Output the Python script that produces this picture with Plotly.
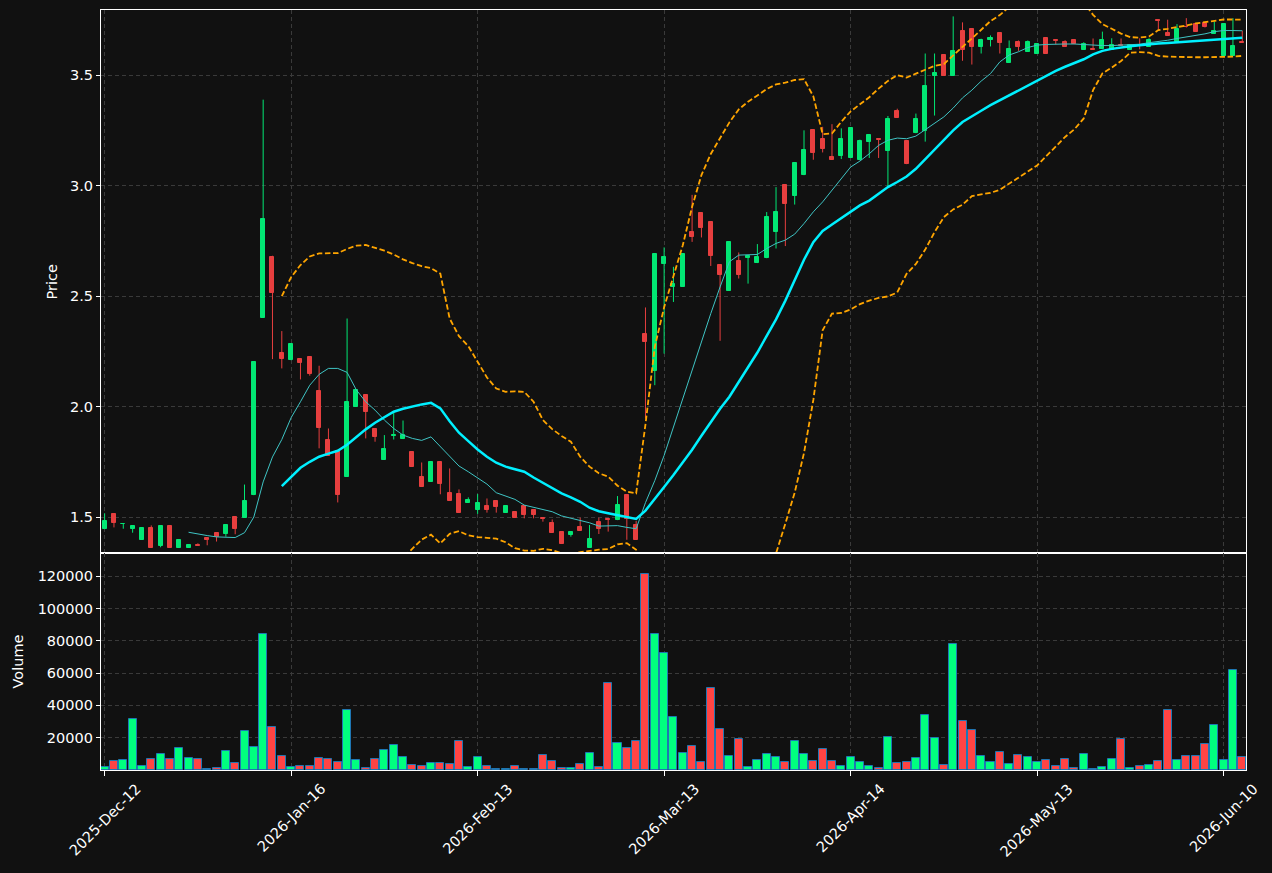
import plotly.graph_objects as go
from plotly.subplots import make_subplots

# ---------------- data ----------------
tick_labels = ["2025-Dec-12", "2026-Jan-16", "2026-Feb-13", "2026-Mar-13",
               "2026-Apr-14", "2026-May-13", "2026-Jun-10"]
tick_index = [0, 20, 40, 60, 80, 100, 120]

opens = [1.447, 1.514, 1.468, 1.447, 1.398, 1.450, 1.369, 1.459, 1.362, 1.362,
         1.374, 1.407, 1.428, 1.423, 1.500, 1.497, 1.599, 2.402, 2.676, 2.243,
         2.210, 2.215, 2.224, 2.070, 1.848, 1.800, 1.683, 1.999, 2.052, 1.898,
         1.759, 1.866, 1.853, 1.794, 1.681, 1.660, 1.749, 1.609, 1.604, 1.565,
         1.532, 1.550, 1.572, 1.520, 1.523, 1.550, 1.532, 1.497, 1.474, 1.434,
         1.417, 1.455, 1.361, 1.477, 1.491, 1.486, 1.600, 1.464, 2.331, 2.162,
         2.647, 2.542, 2.542, 2.790, 2.875, 2.835, 2.640, 2.524, 2.659, 2.672,
         2.650, 2.672, 2.790, 3.002, 2.953, 3.048, 3.252, 3.211, 3.130, 3.134,
         3.127, 3.115, 3.197, 3.212, 3.156, 3.340, 3.201, 3.238, 3.248, 3.498,
         3.590, 3.498, 3.700, 3.708, 3.629, 3.658, 3.691, 3.557, 3.649, 3.607,
         3.598, 3.669, 3.660, 3.650, 3.661, 3.617, 3.621, 3.621, 3.617, 3.639,
         3.617, 3.639, 3.630, 3.752, 3.692, 3.652, 3.720, 3.732, 3.738, 3.689,
         3.588, 3.588, 3.652]
highs = [1.517, 1.514, 1.469, 1.459, 1.450, 1.462, 1.459, 1.459, 1.399, 1.374,
         1.381, 1.407, 1.428, 1.464, 1.500, 1.647, 2.203, 3.390, 2.683, 2.342,
         2.283, 2.215, 2.224, 2.185, 1.901, 1.800, 2.399, 2.075, 2.052, 1.898,
         1.871, 1.977, 1.937, 1.794, 1.747, 1.749, 1.749, 1.720, 1.625, 1.589,
         1.604, 1.584, 1.572, 1.550, 1.523, 1.550, 1.532, 1.497, 1.489, 1.434,
         1.432, 1.497, 1.464, 1.497, 1.491, 1.595, 1.600, 1.482, 2.449, 2.690,
         2.721, 2.633, 2.693, 2.959, 2.875, 2.835, 2.640, 2.745, 2.698, 2.681,
         2.736, 2.881, 2.994, 3.002, 3.103, 3.251, 3.252, 3.267, 3.279, 3.260,
         3.261, 3.209, 3.228, 3.212, 3.316, 3.349, 3.201, 3.327, 3.599, 3.599,
         3.590, 3.767, 3.740, 3.708, 3.666, 3.681, 3.691, 3.658, 3.658, 3.658,
         3.640, 3.669, 3.662, 3.659, 3.661, 3.650, 3.667, 3.698, 3.668, 3.667,
         3.638, 3.668, 3.668, 3.752, 3.752, 3.732, 3.759, 3.732, 3.738, 3.744,
         3.732, 3.759, 3.702]
lows = [1.445, 1.453, 1.447, 1.429, 1.398, 1.362, 1.363, 1.362, 1.362, 1.362,
        1.369, 1.372, 1.389, 1.411, 1.422, 1.497, 1.599, 2.402, 2.215, 2.173,
        2.210, 2.123, 2.140, 1.811, 1.778, 1.566, 1.683, 1.999, 1.856, 1.841,
        1.759, 1.851, 1.853, 1.728, 1.637, 1.660, 1.603, 1.574, 1.520, 1.565,
        1.514, 1.520, 1.520, 1.520, 1.497, 1.494, 1.494, 1.479, 1.429, 1.379,
        1.411, 1.438, 1.361, 1.423, 1.434, 1.486, 1.397, 1.397, 1.946, 2.097,
        2.240, 2.474, 2.542, 2.746, 2.766, 2.637, 2.298, 2.524, 2.580, 2.557,
        2.650, 2.672, 2.716, 2.727, 2.915, 3.048, 3.118, 3.151, 3.118, 3.121,
        3.127, 3.115, 3.126, 3.126, 2.997, 3.307, 3.098, 3.238, 3.200, 3.318,
        3.498, 3.498, 3.566, 3.549, 3.599, 3.631, 3.599, 3.557, 3.611, 3.607,
        3.598, 3.598, 3.641, 3.630, 3.641, 3.617, 3.617, 3.621, 3.617, 3.634,
        3.617, 3.618, 3.630, 3.702, 3.680, 3.652, 3.717, 3.698, 3.717, 3.689,
        3.588, 3.588, 3.648]
closes = [1.482, 1.474, 1.469, 1.459, 1.450, 1.362, 1.459, 1.362, 1.395, 1.374,
          1.369, 1.396, 1.408, 1.464, 1.446, 1.572, 2.203, 2.851, 2.515, 2.215,
          2.283, 2.198, 2.147, 1.904, 1.778, 1.601, 2.019, 2.075, 1.977, 1.864,
          1.808, 1.870, 1.871, 1.728, 1.637, 1.749, 1.651, 1.574, 1.520, 1.577,
          1.562, 1.532, 1.545, 1.550, 1.497, 1.511, 1.511, 1.493, 1.429, 1.379,
          1.432, 1.438, 1.400, 1.447, 1.486, 1.554, 1.489, 1.397, 2.293, 2.690,
          2.677, 2.557, 2.693, 2.769, 2.810, 2.683, 2.595, 2.745, 2.595, 2.681,
          2.677, 2.858, 2.881, 2.917, 3.103, 3.162, 3.150, 3.168, 3.118, 3.211,
          3.261, 3.201, 3.228, 3.207, 3.301, 3.307, 3.098, 3.301, 3.451, 3.510,
          3.498, 3.610, 3.617, 3.629, 3.658, 3.669, 3.648, 3.619, 3.629, 3.649,
          3.640, 3.598, 3.655, 3.630, 3.641, 3.642, 3.617, 3.661, 3.636, 3.634,
          3.638, 3.635, 3.659, 3.748, 3.680, 3.711, 3.717, 3.698, 3.717, 3.702,
          3.732, 3.632, 3.648]
volumes = [2000, 5600, 6200, 31500, 2500, 6800, 9900, 6800, 13600, 7400,
           6800, 600, 1200, 11700, 4300, 24000, 14200, 84000, 26500, 8600,
           1900, 2500, 2500, 7400, 6800, 4900, 37000, 6200, 1200, 6800,
           12300, 15400, 8000, 3100, 2500, 4300, 4300, 3700, 17900, 1900,
           8000, 2500, 500, 500, 2500, 500, 500, 9300, 5600, 1200,
           1200, 3700, 10500, 1900, 53700, 16700, 13600, 17900, 121600, 84000,
           72200, 32700, 10500, 14800, 4900, 50600, 25300, 8600, 19100, 1900,
           6200, 9900, 8000, 4900, 17900, 9900, 5600, 13000, 5600, 2500,
           8000, 4900, 2500, 1200, 20400, 4300, 4900, 7400, 34000, 19800,
           3100, 77800, 30200, 24700, 8600, 4900, 11100, 3700, 9300, 8000,
           4900, 6200, 2500, 6800, 1200, 9900, 600, 1900, 6800, 19100,
           1200, 2500, 3100, 5600, 37000, 6200, 8600, 8600, 16000, 27800,
           6200, 61700, 8000]

# 10-period average (thin line), starts at index 9
ma_short_start = 9
ma_short = [1.431, 1.422, 1.416, 1.410, 1.407, 1.407, 1.429, 1.500, 1.659, 1.772,
            1.851, 1.950, 2.022, 2.097, 2.146, 2.173, 2.173, 2.155, 2.075, 2.022,
            1.984, 1.939, 1.901, 1.871, 1.856, 1.847, 1.863, 1.818, 1.773, 1.731,
            1.705, 1.675, 1.649, 1.610, 1.595, 1.580, 1.554, 1.544, 1.535, 1.524,
            1.505, 1.494, 1.483, 1.474, 1.459, 1.459, 1.461, 1.453, 1.447, 1.565,
            1.665, 1.779, 1.908, 2.044, 2.172, 2.300, 2.421, 2.542, 2.656, 2.686,
            2.686, 2.689, 2.716, 2.739, 2.754, 2.781, 2.829, 2.882, 2.927, 2.980,
            3.033, 3.085, 3.112, 3.145, 3.183, 3.206, 3.216, 3.213, 3.225, 3.253,
            3.281, 3.312, 3.352, 3.398, 3.433, 3.474, 3.508, 3.561, 3.592, 3.607,
            3.626, 3.637, 3.640, 3.642, 3.642, 3.642, 3.639, 3.636, 3.635, 3.635,
            3.636, 3.638, 3.641, 3.648, 3.653, 3.659, 3.667, 3.674, 3.680, 3.688,
            3.698, 3.703, 3.703, 3.702]

# 20-period average (thick line) and bands, start at index 19
ma_long_start = 19
ma_long = [1.640, 1.683, 1.723, 1.750, 1.773, 1.787, 1.800, 1.827, 1.864, 1.897,
           1.927, 1.954, 1.977, 1.990, 2.001, 2.010, 2.017, 1.992, 1.934, 1.882,
           1.844, 1.806, 1.773, 1.746, 1.728, 1.716, 1.705, 1.679, 1.655, 1.630,
           1.607, 1.589, 1.569, 1.542, 1.526, 1.517, 1.508, 1.498, 1.491, 1.529,
           1.580, 1.636, 1.690, 1.745, 1.805, 1.868, 1.930, 1.990, 2.045, 2.110,
           2.175, 2.245, 2.320, 2.395, 2.480, 2.575, 2.665, 2.745, 2.795, 2.825,
           2.855, 2.884, 2.911, 2.933, 2.964, 2.994, 3.017, 3.042, 3.077, 3.120,
           3.165, 3.210, 3.251, 3.289, 3.316, 3.340, 3.365, 3.387, 3.410, 3.433,
           3.455, 3.478, 3.498, 3.520, 3.539, 3.555, 3.573, 3.595, 3.611, 3.620,
           3.627, 3.632, 3.636, 3.641, 3.644, 3.647, 3.650, 3.653, 3.656, 3.659,
           3.662, 3.665, 3.668, 3.670]
band_upper = [2.500, 2.586, 2.641, 2.680, 2.694, 2.695, 2.695, 2.714, 2.729, 2.732,
              2.720, 2.706, 2.689, 2.667, 2.650, 2.636, 2.627, 2.602, 2.399, 2.319,
              2.274, 2.205, 2.132, 2.082, 2.067, 2.069, 2.067, 2.022, 1.939, 1.898,
              1.867, 1.841, 1.773, 1.728, 1.698, 1.683, 1.642, 1.615, 1.607, 1.920,
              2.271, 2.450, 2.588, 2.731, 2.905, 3.048, 3.144, 3.215, 3.287, 3.346,
              3.381, 3.409, 3.438, 3.459, 3.467, 3.479, 3.483, 3.405, 3.234, 3.237,
              3.290, 3.337, 3.368, 3.401, 3.440, 3.475, 3.501, 3.490, 3.508, 3.526,
              3.543, 3.551, 3.592, 3.629, 3.667, 3.708, 3.746, 3.773, 3.810, 3.827,
              3.843, 3.860, 3.861, 3.861, 3.857, 3.850, 3.830, 3.774, 3.732, 3.711,
              3.689, 3.673, 3.671, 3.676, 3.705, 3.711, 3.717, 3.726, 3.735, 3.742,
              3.748, 3.753, 3.753, 3.752]
band_lower = [0.780, 0.780, 0.805, 0.820, 0.852, 0.879, 0.905, 0.940, 1.000, 1.062,
              1.134, 1.202, 1.265, 1.315, 1.356, 1.398, 1.420, 1.380, 1.424, 1.436,
              1.417, 1.409, 1.406, 1.402, 1.386, 1.359, 1.348, 1.347, 1.356, 1.350,
              1.336, 1.332, 1.341, 1.347, 1.352, 1.355, 1.376, 1.382, 1.352, 1.140,
              0.890, 0.820, 0.790, 0.760, 0.705, 0.690, 0.716, 0.765, 0.800, 0.874,
              0.970, 1.080, 1.200, 1.330, 1.470, 1.610, 1.790, 2.030, 2.346, 2.421,
              2.424, 2.440, 2.464, 2.480, 2.492, 2.499, 2.517, 2.601, 2.646, 2.711,
              2.790, 2.858, 2.893, 2.914, 2.953, 2.961, 2.968, 2.982, 3.009, 3.039,
              3.067, 3.092, 3.135, 3.179, 3.221, 3.256, 3.305, 3.433, 3.509, 3.535,
              3.565, 3.603, 3.605, 3.603, 3.588, 3.585, 3.583, 3.582, 3.582, 3.582,
              3.582, 3.583, 3.585, 3.588]

# ---------------- styling ----------------
BG = "#111111"
UP_CANDLE = "#02e774"
DOWN_CANDLE = "#e73f3f"
UP_VOL = "#00ff7f"
DOWN_VOL = "#ff4444"
GRID = "#3a3a3a"
FONT = "DejaVu Sans"
FS = 14.5

n = len(closes)
idx = list(range(n))
is_up = [c >= o for o, c in zip(opens, closes)]

fig = make_subplots(rows=2, cols=1, shared_xaxes=True, vertical_spacing=0,
                    row_heights=[0.7145, 0.2855])

# wicks
for up_flag, col in ((True, UP_CANDLE), (False, DOWN_CANDLE)):
    wx, wy = [], []
    for i in idx:
        if is_up[i] == up_flag:
            wx += [i, i, None]
            wy += [lows[i], highs[i], None]
    fig.add_trace(go.Scatter(x=wx, y=wy, mode="lines",
                             line=dict(color=col, width=1),
                             hoverinfo="skip", showlegend=False), row=1, col=1)

# candle bodies
body_base = [min(o, c) for o, c in zip(opens, closes)]
body_h = [abs(c - o) for o, c in zip(opens, closes)]
body_col = [UP_CANDLE if u else DOWN_CANDLE for u in is_up]
fig.add_trace(go.Bar(x=idx, y=body_h, base=body_base, width=0.43,
                     marker=dict(color=body_col, line=dict(color=body_col, width=1)),
                     showlegend=False,
                     customdata=list(zip(opens, highs, lows, closes)),
                     hovertemplate="O %{customdata[0]}<br>H %{customdata[1]}"
                                   "<br>L %{customdata[2]}<br>C %{customdata[3]}<extra></extra>"),
              row=1, col=1)

# moving averages and bands
fig.add_trace(go.Scatter(x=list(range(ma_short_start, ma_short_start + len(ma_short))),
                         y=ma_short, mode="lines",
                         line=dict(color="#3fc4c4", width=1), showlegend=False),
              row=1, col=1)
fig.add_trace(go.Scatter(x=list(range(ma_long_start, ma_long_start + len(ma_long))),
                         y=ma_long, mode="lines",
                         line=dict(color="#00f0ff", width=2.5), showlegend=False),
              row=1, col=1)
band_x = list(range(ma_long_start, ma_long_start + len(band_upper)))
for band in (band_upper, band_lower):
    fig.add_trace(go.Scatter(x=band_x, y=band, mode="lines",
                             line=dict(color="#ffa500", width=1.8, dash="5.5px,2.6px"),
                             showlegend=False), row=1, col=1)

# volume
vol_col = [UP_VOL if u else DOWN_VOL for u in is_up]
fig.add_trace(go.Bar(x=idx, y=volumes, width=0.86,
                     marker=dict(color=vol_col, line=dict(color="#1f77b4", width=1)),
                     showlegend=False), row=2, col=1)

axis_common = dict(showline=True, linecolor="white", linewidth=1.2, mirror=True,
                   gridcolor=GRID, griddash="4px,3px", gridwidth=1, zeroline=False,
                   tickfont=dict(family=FONT, size=FS, color="white"),
                   ticks="outside", tickcolor="white", ticklen=4)

fig.update_xaxes(range=[-0.39, 122.4], tickvals=tick_index, **axis_common)
fig.update_xaxes(showticklabels=False, ticks="", row=1, col=1)
fig.update_xaxes(showticklabels=False, ticklen=5, row=2, col=1)

fig.update_yaxes(**axis_common)
fig.update_yaxes(range=[1.337, 3.796], tickvals=[1.5, 2.0, 2.5, 3.0, 3.5],
                 tickformat=".1f", row=1, col=1)
fig.update_yaxes(range=[0, 134400],
                 tickvals=[20000, 40000, 60000, 80000, 100000, 120000],
                 tickformat="d", row=2, col=1)

# rotated date labels centred under their ticks
for pos, lab in zip(tick_index, tick_labels):
    fig.add_annotation(text=lab, x=pos, y=-0.0105, xref="x2", yref="paper",
                       textangle=-45, showarrow=False, xanchor="center", yanchor="top",
                       font=dict(family=FONT, size=FS, color="white"))

fig.add_annotation(text="Price", x=-0.0428, y=0.6428, xref="paper", yref="paper",
                   textangle=-90, showarrow=False, xanchor="center", yanchor="middle",
                   font=dict(family=FONT, size=FS, color="white"))
fig.add_annotation(text="Volume", x=-0.0725, y=0.1428, xref="paper", yref="paper",
                   textangle=-90, showarrow=False, xanchor="center", yanchor="middle",
                   font=dict(family=FONT, size=FS, color="white"))

fig.update_layout(width=1272, height=873, margin=dict(l=101, r=26, t=10, b=103),
                  paper_bgcolor=BG, plot_bgcolor=BG, bargap=0, barmode="overlay",
                  showlegend=False, font=dict(family=FONT, color="white"))

fig.write_html("out.html")
